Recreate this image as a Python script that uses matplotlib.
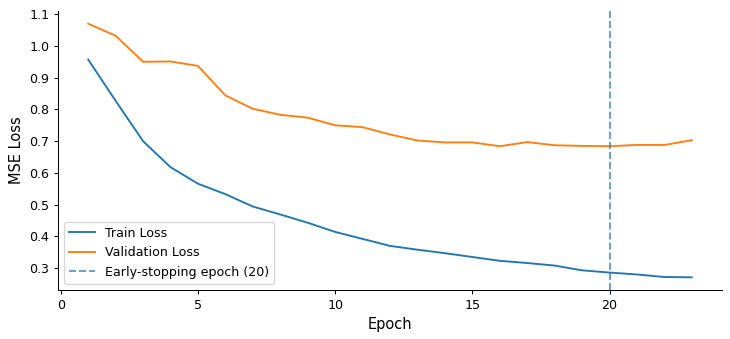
import matplotlib
matplotlib.use("Agg")
import matplotlib.pyplot as plt

epochs = list(range(1, 24))
train_loss = [0.957, 0.827, 0.700, 0.618, 0.566, 0.533, 0.494, 0.469, 0.443, 0.414,
              0.392, 0.370, 0.358, 0.347, 0.335, 0.323, 0.316, 0.308, 0.293, 0.286,
              0.280, 0.272, 0.271]
val_loss = [1.070, 1.032, 0.950, 0.951, 0.937, 0.844, 0.802, 0.783, 0.774, 0.750,
            0.744, 0.721, 0.702, 0.696, 0.696, 0.684, 0.697, 0.687, 0.685, 0.684,
            0.688, 0.688, 0.703]
early_stop_epoch = 20

DPI = 91.25
W, H = 730, 339
fig, ax = plt.subplots(figsize=(W / DPI, H / DPI), dpi=DPI)
ax.plot(epochs, train_loss, label="Train Loss", color="C0")
ax.plot(epochs, val_loss, label="Validation Loss", color="C1")
ax.axvline(early_stop_epoch, linestyle="--", color="C0", alpha=0.7,
           label=f"Early-stopping epoch ({early_stop_epoch})")
ax.set_xlabel("Epoch", fontsize=11.5)
ax.set_ylabel("MSE Loss", fontsize=11.5)
ax.spines["top"].set_visible(False)
ax.spines["right"].set_visible(False)
ax.legend(loc="lower left")
fig.subplots_adjust(left=58 / W, right=722 / W, top=1 - 11 / H, bottom=1 - 290 / H)
fig.savefig("out.png", dpi=DPI)
